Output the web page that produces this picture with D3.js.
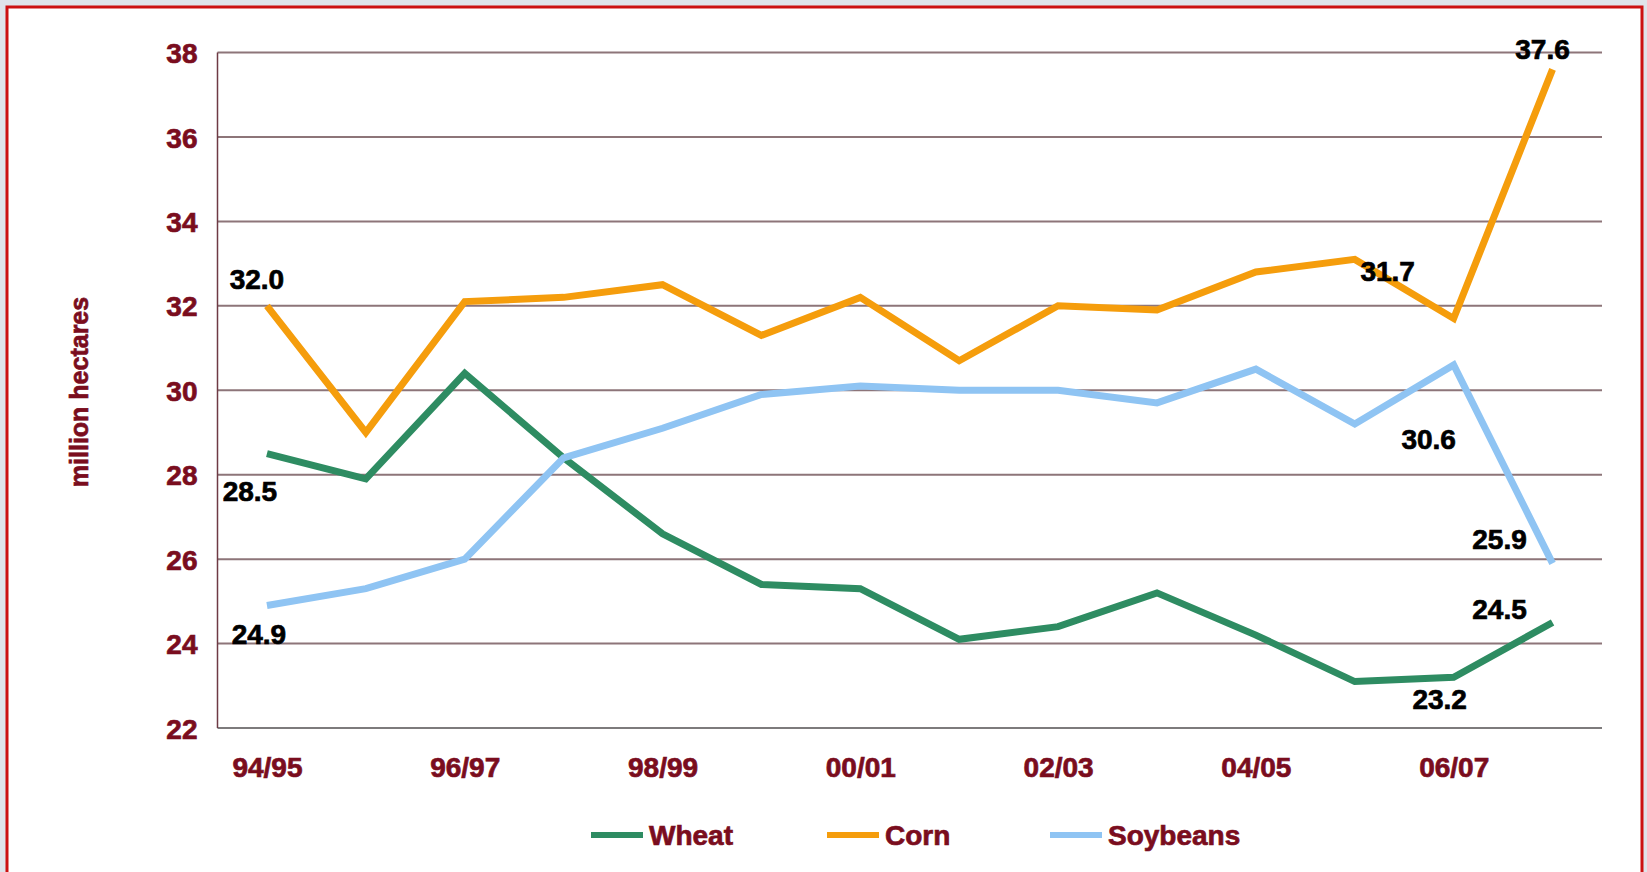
<!DOCTYPE html>
<html>
<head>
<meta charset="utf-8">
<script src="https://cdn.jsdelivr.net/npm/d3@7/dist/d3.min.js"></script>
<style>
  html, body { margin: 0; padding: 0; background: #dfe4ea; }
  svg { display: block; }
  text { font-family: "Liberation Sans", Arial, sans-serif; font-weight: bold; }
</style>
</head>
<body>
<svg id="chart" width="1647" height="872"></svg>
<script>
// ---------------- data ----------------
const categories = ["94/95","95/96","96/97","97/98","98/99","99/00","00/01","01/02","02/03","03/04","04/05","05/06","06/07","07/08"];
const xTickLabels = ["94/95","96/97","98/99","00/01","02/03","04/05","06/07"];
const yTickValues = [22, 24, 26, 28, 30, 32, 34, 36, 38];
const wheat    = [28.5, 27.9, 30.4, 28.4, 26.6, 25.4, 25.3, 24.1, 24.4, 25.2, 24.2, 23.1, 23.2, 24.5];
const corn     = [32.0, 29.0, 32.1, 32.2, 32.5, 31.3, 32.2, 30.7, 32.0, 31.9, 32.8, 33.1, 31.7, 37.6];
const soybeans = [24.9, 25.3, 26.0, 28.4, 29.1, 29.9, 30.1, 30.0, 30.0, 29.7, 30.5, 29.2, 30.6, 25.9];
const seriesNames = ["Wheat", "Corn", "Soybeans"];
const yTitle = "million hectares";
// labelled points: [series index, category index]
const labelledPoints = [[1,0],[0,0],[2,0],[1,13],[1,12],[2,12],[2,13],[0,13],[0,12]];

// ---------------- layout / style ----------------
const seriesValues = [wheat, corn, soybeans];
const colors = ["#2e8c62", "#f59d0c", "#8fc4f3"];
const tickColor = "#7a0d1e";

const svg = d3.select("#chart");
const W = 1647, H = 872;

// page frame
svg.append("rect").attr("x", 0).attr("y", 0).attr("width", W).attr("height", H).attr("fill", "#dfe4ea");
svg.append("rect").attr("x", 7).attr("y", 7).attr("width", 1635).attr("height", 900)
  .attr("fill", "#ffffff").attr("stroke", "#cc1111").attr("stroke-width", 3);

const x = d3.scalePoint().domain(categories).range([217.5, 1602]).padding(0.5);
const y = d3.scaleLinear().domain([22, 38]).range([728, 52.5]);

// gridlines
svg.append("g").selectAll("line")
  .data(yTickValues.filter(v => v > 22))
  .join("line")
  .attr("x1", 217.5).attr("x2", 1602)
  .attr("y1", d => y(d)).attr("y2", d => y(d))
  .attr("stroke", "#8d7579").attr("stroke-width", 2);

// bottom axis line
svg.append("line").attr("x1", 217.5).attr("x2", 1602).attr("y1", y(22)).attr("y2", y(22))
  .attr("stroke", "#7d7b7c").attr("stroke-width", 2);
// left axis line
svg.append("line").attr("x1", 217.5).attr("x2", 217.5).attr("y1", y(38)).attr("y2", y(22))
  .attr("stroke", "#6e3a44").attr("stroke-width", 1.5);

function heavy(sel, color) {
  sel.attr("stroke", color).attr("stroke-width", 0.7).attr("paint-order", "stroke")
    .style("font-family", "'Liberation Sans', Arial, sans-serif").style("font-weight", "bold");
}

// y axis labels
const yAxis = d3.axisLeft(y).tickValues(yTickValues).tickSize(0).tickPadding(20).tickFormat(d3.format("d"));
const gy = svg.append("g").attr("transform", "translate(217.5,0)").call(yAxis);
gy.select(".domain").remove();
gy.selectAll("text").attr("fill", tickColor).style("font-size", "28px").attr("dy", "0.36em").call(heavy, tickColor);

// x axis labels
const xAxis = d3.axisBottom(x).tickValues(xTickLabels).tickSize(0).tickPadding(0);
const gx = svg.append("g").attr("transform", `translate(0,${y(22)})`).call(xAxis);
gx.select(".domain").remove();
gx.selectAll("text").attr("fill", tickColor).style("font-size", "28px").attr("y", 49).attr("dy", "0").call(heavy, tickColor);

// y title
svg.append("text")
  .attr("transform", "translate(88,392) rotate(-90)")
  .attr("text-anchor", "middle")
  .attr("fill", tickColor)
  .style("font-size", "25px")
  .call(heavy, tickColor)
  .text(yTitle);

// lines
const line = d3.line().x((d, i) => x(categories[i])).y(d => y(d));
svg.append("g").selectAll("path")
  .data(seriesValues)
  .join("path")
  .attr("d", d => line(d))
  .attr("fill", "none")
  .attr("stroke", (d, i) => colors[i])
  .attr("stroke-width", 7)
  .attr("stroke-linejoin", "miter");

// data labels
const labelOffsets = [[-10,-17],[-17,47],[-8,38],[-10,-10],[-66,-37],[-25,84],[-53,-14],[-53,-3],[-14,32]];
svg.append("g").selectAll("text")
  .data(labelledPoints)
  .join("text")
  .attr("x", (d, k) => x(categories[d[1]]) + labelOffsets[k][0])
  .attr("y", (d, k) => y(seriesValues[d[0]][d[1]]) + labelOffsets[k][1])
  .attr("text-anchor", "middle")
  .attr("fill", "#000000")
  .style("font-size", "28px")
  .call(heavy, "#000000")
  .text(d => d3.format(".1f")(seriesValues[d[0]][d[1]]));

// legend
const legendX = [591, 827, 1050];
const legendY = 835;
const lg = svg.append("g").selectAll("g").data(seriesNames).join("g")
  .attr("transform", (d, i) => `translate(${legendX[i]},${legendY})`);
lg.append("line").attr("x1", 0).attr("x2", 52).attr("y1", 0).attr("y2", 0)
  .attr("stroke", (d, i) => colors[i]).attr("stroke-width", 6);
lg.append("text").attr("x", 58).attr("y", 0).attr("dy", "0.36em")
  .attr("fill", tickColor).style("font-size", "28px").call(heavy, tickColor).text(d => d);
</script>
</body>
</html>
